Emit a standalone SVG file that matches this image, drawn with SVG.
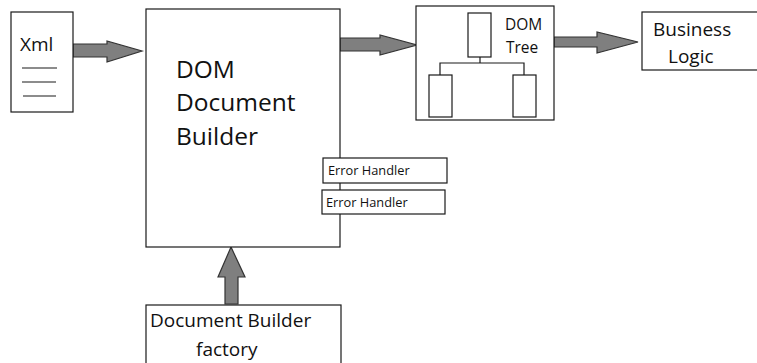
<svg xmlns="http://www.w3.org/2000/svg" width="757" height="363" viewBox="0 0 757 363">
<style>
.box{fill:#fff;stroke:#1a1a1a;stroke-width:1.2}
.arr{fill:#7f7f7f;stroke:#333;stroke-width:1.2;stroke-linejoin:miter}
.ln{fill:none;stroke:#1a1a1a;stroke-width:1.2}
text{font-family:"Open Sans","Liberation Sans",sans-serif;fill:#111}
.big{font-size:24.5px}
.mid{font-size:19px}
.sm{font-size:12.8px}
.tr{font-size:15.5px}
</style>
<rect width="757" height="363" fill="#fff"/>
<g id="connectors">
<polygon class="arr" points="73,44 107,44 107,41 142,51 107,62 107,57 73,57"/>
<polygon class="arr" points="340,38 380,38 380,35 417,45 380,55 380,51 340,51"/>
<polygon class="arr" points="554,37 597,37 597,32 638,42 597,53 597,47 554,47"/>
<polygon class="arr" points="225,304 225,277 218,277 231,247 245,277 238,277 238,304"/>
</g>
<g id="xml">
<rect class="box" x="11" y="12" width="62" height="100"/>
<text class="mid" x="20" y="51">Xml</text>
<line class="ln" x1="22" y1="68" x2="57" y2="68"/>
<line class="ln" x1="22" y1="82" x2="56" y2="82"/>
<line class="ln" x1="23" y1="96" x2="56" y2="96"/>
</g>
<g id="dom-document-builder">
<rect class="box" x="146" y="9" width="194" height="238"/>
<text class="big" x="176" y="78">DOM</text>
<text class="big" x="176" y="111">Document</text>
<text class="big" x="176" y="145">Builder</text>
</g>
<g id="error-handler-1">
<rect class="box" x="323" y="158" width="124" height="25"/>
<text class="sm" x="328" y="175">Error Handler</text>
</g>
<g id="error-handler-2">
<rect class="box" x="322" y="190" width="123" height="24"/>
<text class="sm" x="326" y="207">Error Handler</text>
</g>
<g id="dom-tree">
<rect class="box" x="416" y="6" width="138" height="114"/>
<rect class="box" x="468" y="13" width="23" height="44"/>
<polyline class="ln" points="480,57 480,63"/>
<polyline class="ln" points="440,76 440,63 524,63 524,76"/>
<rect class="box" x="429" y="75" width="23" height="42"/>
<rect class="box" x="513" y="75" width="23" height="42"/>
<text class="tr" x="505" y="30">DOM</text>
<text class="tr" x="506" y="53">Tree</text>
</g>
<g id="business-logic">
<rect class="box" x="642" y="12" width="120" height="58"/>
<text class="mid" x="653" y="36">Business</text>
<text class="mid" x="668" y="63">Logic</text>
</g>
<g id="document-builder-factory">
<rect class="box" x="146" y="305" width="195" height="70"/>
<text class="mid" x="150" y="327">Document Builder</text>
<text class="mid" x="196" y="356">factory</text>
</g>
</svg>
